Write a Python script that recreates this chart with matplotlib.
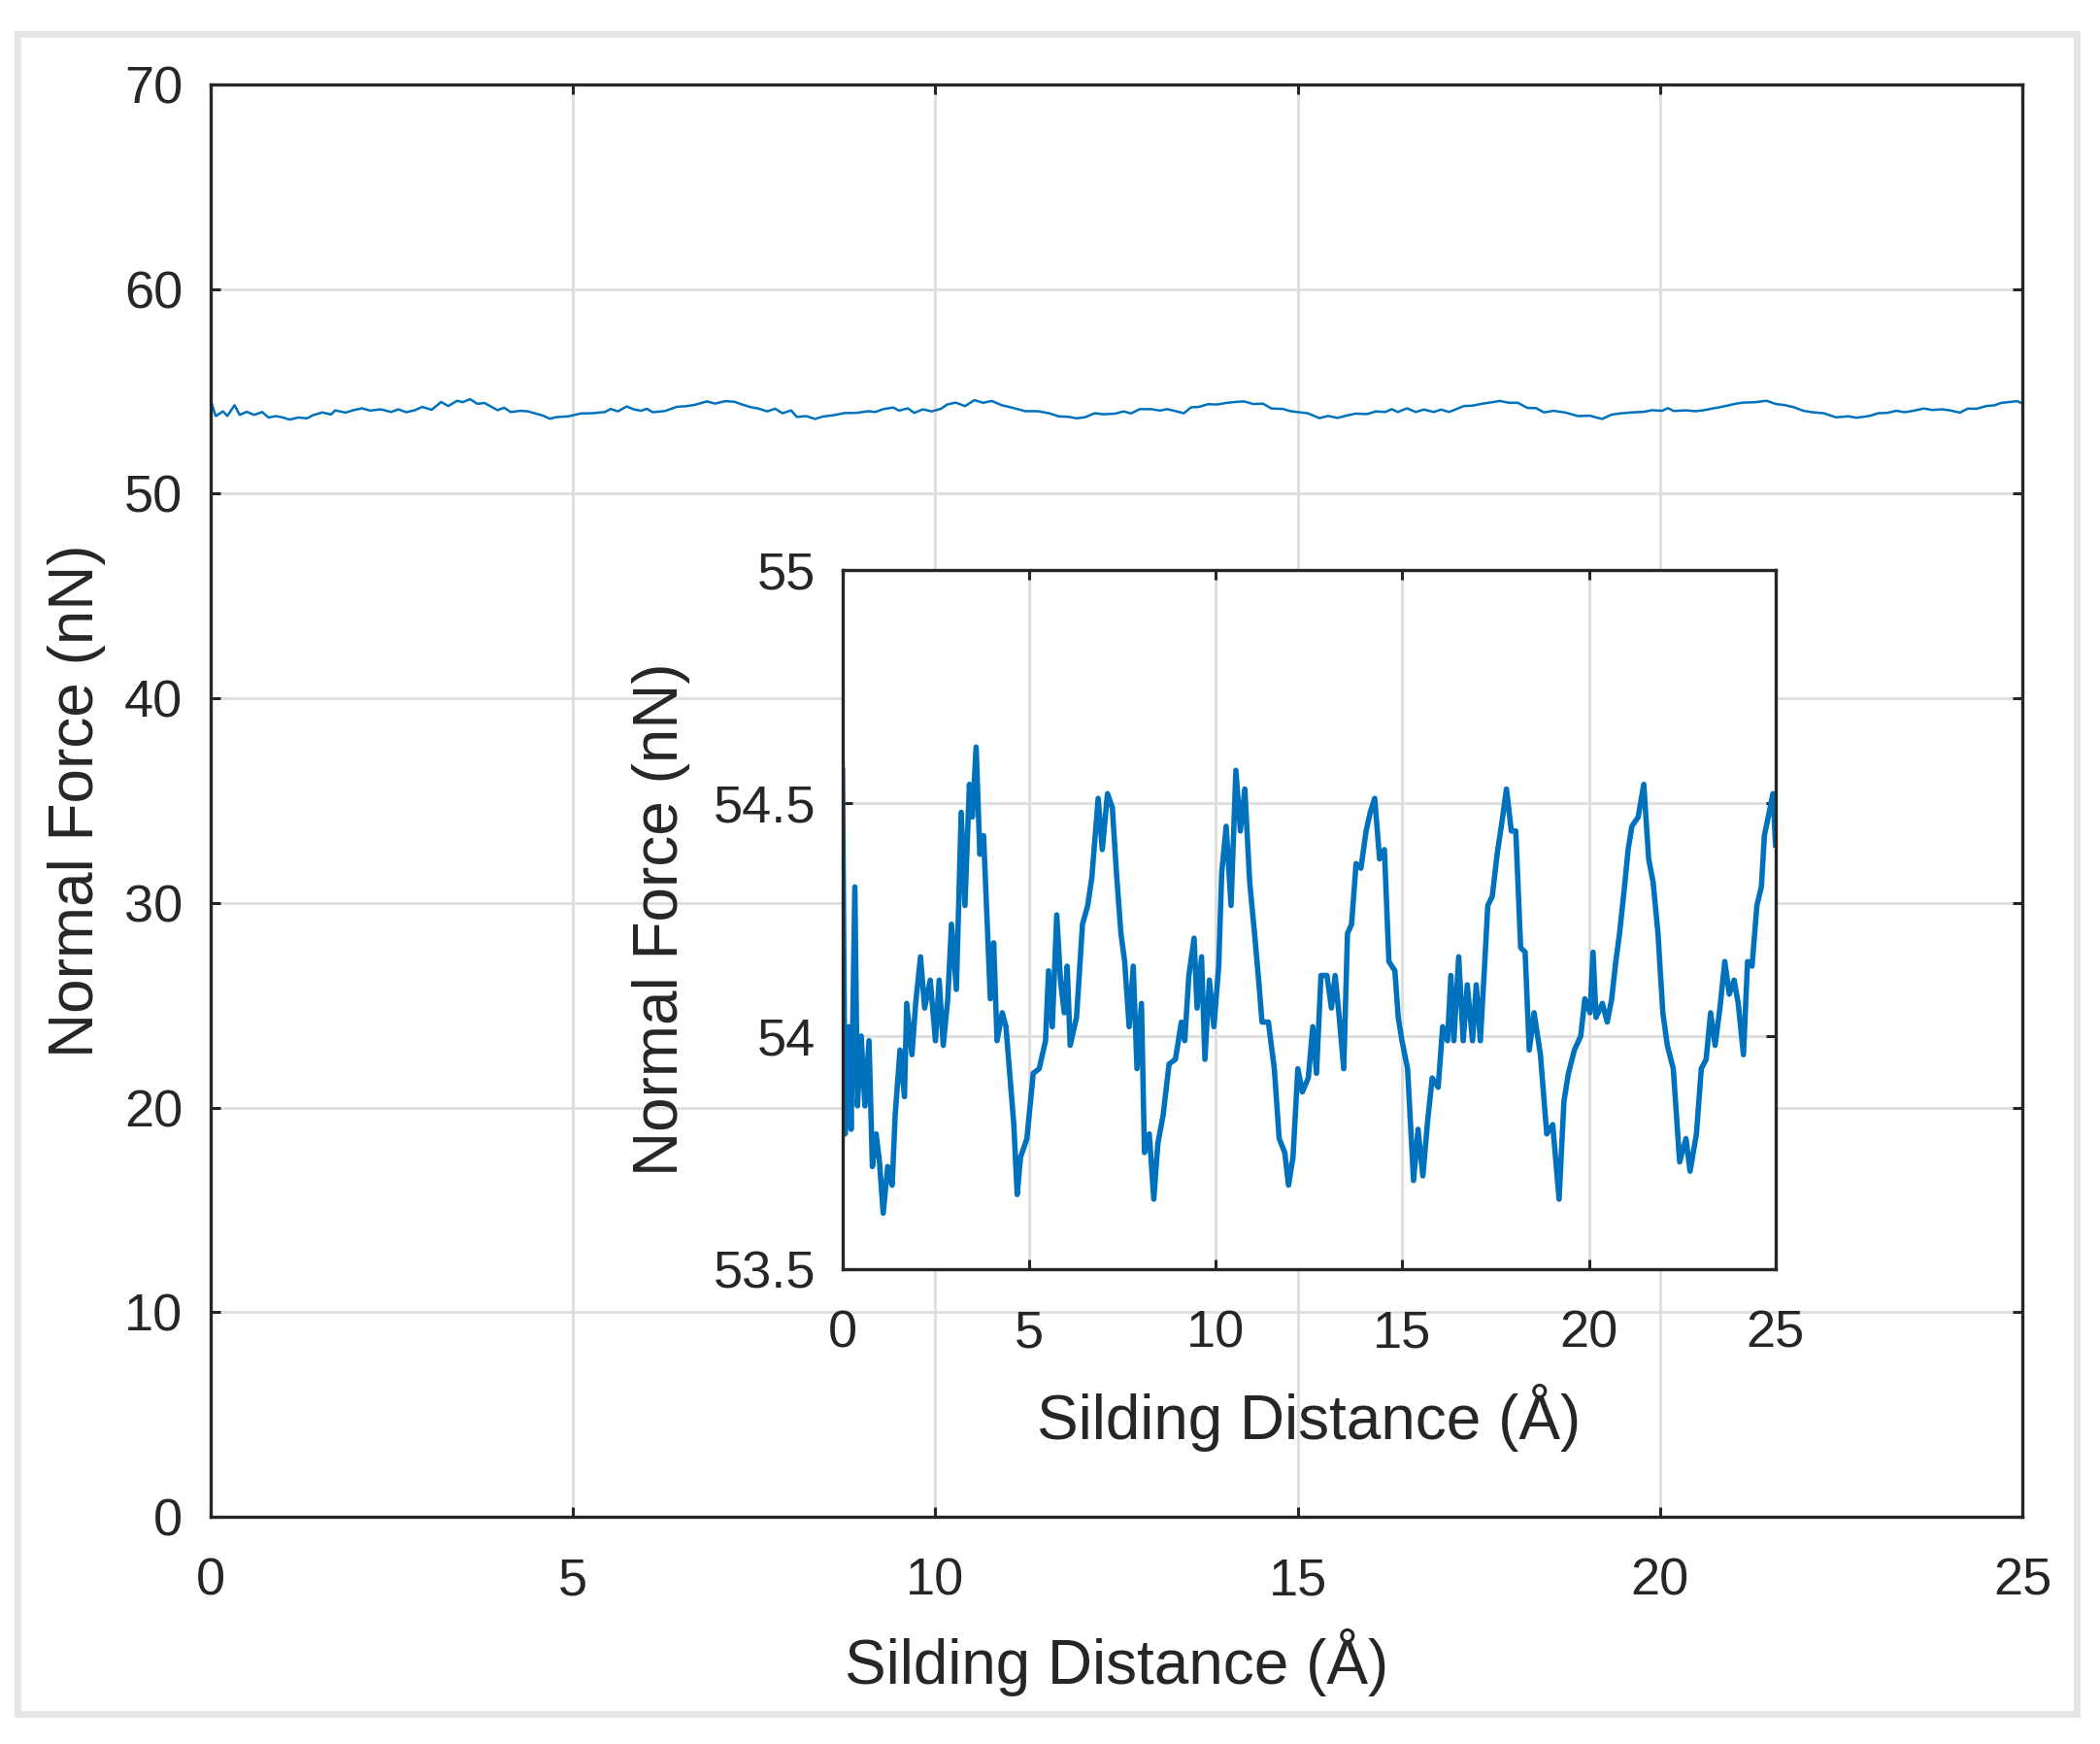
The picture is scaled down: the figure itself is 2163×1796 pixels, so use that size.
import matplotlib
matplotlib.use("Agg")
import matplotlib.pyplot as plt
from matplotlib.patches import Rectangle

# sliding distance (Angstrom) and normal force (nN)
distance = [0.00, 0.07, 0.17, 0.23, 0.33, 0.40, 0.50, 0.60, 0.71, 0.80,
            0.90, 0.99, 1.09, 1.21, 1.33, 1.41, 1.54, 1.66, 1.72, 1.86,
            1.96, 2.09, 2.20, 2.35, 2.49, 2.59, 2.70, 2.82, 2.92, 3.05,
            3.18, 3.28, 3.40, 3.48, 3.58, 3.68, 3.78, 3.90, 3.96, 4.05,
            4.14, 4.28, 4.38, 4.51, 4.59, 4.68, 4.77, 4.94, 5.11, 5.27,
            5.44, 5.52, 5.62, 5.74, 5.84, 5.94, 6.02, 6.10, 6.27, 6.43,
            6.57, 6.68, 6.85, 6.96, 7.10, 7.23, 7.34, 7.46, 7.56, 7.68,
            7.79, 7.89, 8.01, 8.09, 8.22, 8.34, 8.45, 8.59, 8.75, 8.92,
            9.08, 9.17, 9.28, 9.42, 9.50, 9.62, 9.71, 9.83, 9.95, 10.08,
            10.16, 10.28, 10.41, 10.54, 10.66, 10.78, 10.91, 11.04, 11.16, 11.24,
            11.41, 11.57, 11.70, 11.85, 11.95, 12.07, 12.20, 12.32, 12.48, 12.60,
            12.70, 12.82, 12.98, 13.10, 13.20, 13.31, 13.43, 13.53, 13.64, 13.76,
            13.89, 14.03, 14.14, 14.26, 14.39, 14.52, 14.64, 14.80, 14.89, 14.99,
            15.14, 15.30, 15.42, 15.55, 15.68, 15.80, 15.96, 16.08, 16.21, 16.30,
            16.38, 16.51, 16.63, 16.74, 16.88, 16.98, 17.09, 17.21, 17.29, 17.41,
            17.54, 17.67, 17.79, 17.92, 18.04, 18.17, 18.29, 18.40, 18.53, 18.70,
            18.87, 19.03, 19.20, 19.33, 19.45, 19.61, 19.78, 19.89, 20.03, 20.11,
            20.19, 20.36, 20.49, 20.61, 20.72, 20.82, 20.94, 21.05, 21.15, 21.32,
            21.47, 21.60, 21.72, 21.85, 21.98, 22.10, 22.26, 22.43, 22.60, 22.71,
            22.88, 23.01, 23.14, 23.26, 23.38, 23.51, 23.64, 23.76, 23.89, 24.00,
            24.14, 24.25, 24.37, 24.50, 24.62, 24.70, 24.83, 24.93, 25.00]
force = [54.57, 53.79, 54.02, 53.80, 54.32, 53.85, 54.00, 53.85, 53.99, 53.72,
         53.79, 53.73, 53.62, 53.72, 53.68, 53.83, 53.97, 53.87, 54.07, 53.96,
         54.07, 54.17, 54.06, 54.12, 53.99, 54.12, 53.98, 54.08, 54.24, 54.10,
         54.48, 54.28, 54.54, 54.47, 54.62, 54.39, 54.43, 54.20, 54.08, 54.20,
         53.99, 54.05, 54.02, 53.89, 53.81, 53.66, 53.74, 53.78, 53.92, 53.93,
         53.99, 54.14, 54.02, 54.26, 54.12, 54.05, 54.15, 53.98, 54.04, 54.24,
         54.28, 54.34, 54.51, 54.40, 54.52, 54.49, 54.35, 54.22, 54.16, 54.02,
         54.15, 53.93, 54.07, 53.75, 53.79, 53.65, 53.77, 53.83, 53.94, 53.95,
         54.03, 53.99, 54.13, 54.21, 54.06, 54.17, 53.95, 54.12, 54.02, 54.15,
         54.35, 54.45, 54.28, 54.57, 54.44, 54.53, 54.33, 54.22, 54.11, 54.03,
         54.03, 53.93, 53.78, 53.75, 53.68, 53.74, 53.93, 53.88, 53.91, 54.02,
         53.92, 54.13, 54.13, 54.06, 54.13, 54.04, 53.93, 54.22, 54.24, 54.37,
         54.36, 54.44, 54.48, 54.51, 54.38, 54.40, 54.16, 54.14, 54.04, 53.99,
         53.93, 53.69, 53.80, 53.70, 53.82, 53.91, 53.89, 54.02, 53.99, 54.13,
         53.99, 54.17, 53.99, 54.11, 53.99, 54.11, 53.99, 54.16, 54.28, 54.30,
         54.39, 54.46, 54.53, 54.44, 54.44, 54.19, 54.18, 53.97, 54.05, 53.96,
         53.79, 53.81, 53.65, 53.86, 53.92, 53.97, 54.00, 54.08, 54.05, 54.18,
         54.04, 54.07, 54.03, 54.08, 54.16, 54.22, 54.31, 54.40, 54.45, 54.47,
         54.54, 54.38, 54.33, 54.22, 54.05, 53.98, 53.93, 53.73, 53.78, 53.71,
         53.79, 53.93, 53.95, 54.05, 53.98, 54.06, 54.16, 54.09, 54.12, 54.07,
         53.96, 54.16, 54.15, 54.28, 54.32, 54.43, 54.48, 54.52, 54.41]

main_xticks = [0, 5, 10, 15, 20, 25]
main_yticks = [0, 10, 20, 30, 40, 50, 60, 70]
inset_xticks = [0, 5, 10, 15, 20, 25]
inset_yticks = [53.5, 54, 54.5, 55]
inset_ylabels = ["53.5", "54", "54.5", "55"]

xlabel = "Silding Distance (Å)"
ylabel = "Normal Force (nN)"

line_color = "#0072BD"
ink = "#262626"
grid_color = "#dedede"

plt.rcParams["font.family"] = ["Liberation Sans", "DejaVu Sans"]

fig = plt.figure(figsize=(10.815, 8.98), dpi=200)

# light grey frame around the whole figure
fig.patches.append(Rectangle((0.0081, 0.0173), 0.9806, 0.9632, transform=fig.transFigure,
                             fill=False, edgecolor="#e5e5e5", linewidth=2.5))


def style_axes(ax, xpad, ypad):
    for s in ax.spines.values():
        s.set_color(ink)
        s.set_linewidth(1.2)
    ax.tick_params(direction="in", top=True, right=True, length=3.6, width=1.1,
                   color=ink, labelcolor=ink, labelsize=19.5)
    ax.tick_params(axis="x", pad=xpad)
    ax.tick_params(axis="y", pad=ypad)
    ax.grid(True, color=grid_color, linewidth=1.0)
    ax.set_axisbelow(True)


ax = fig.add_axes([0.1003, 0.1303, 0.8627, 0.8213])
ax.plot(distance, force, color=line_color, linewidth=0.9)
ax.set_xlim(0, 25)
ax.set_ylim(0, 70)
ax.set_xticks(main_xticks)
ax.set_yticks(main_yticks)
style_axes(ax, 15, 10.4)
ax.set_xlabel(xlabel, fontsize=23, color=ink)
ax.set_ylabel(ylabel, fontsize=23, color=ink)
ax.xaxis.set_label_coords(0.5, -0.078)
ax.yaxis.set_label_coords(-0.058, 0.5)

ins = fig.add_axes([0.4012, 0.2723, 0.4443, 0.4009])
ins.plot(distance, force, color=line_color, linewidth=2.0)
ins.set_xlim(0, 25)
ins.set_ylim(53.5, 55)
ins.set_xticks(inset_xticks)
ins.set_yticks(inset_yticks)
ins.set_yticklabels(inset_ylabels)
style_axes(ins, 15, 10)
ins.set_xlabel(xlabel, fontsize=23, color=ink)
ins.set_ylabel(ylabel, fontsize=23, color=ink)
ins.xaxis.set_label_coords(0.5, -0.164)
ins.yaxis.set_label_coords(-0.163, 0.5)

fig.savefig("out.png", dpi=200, facecolor="white")
